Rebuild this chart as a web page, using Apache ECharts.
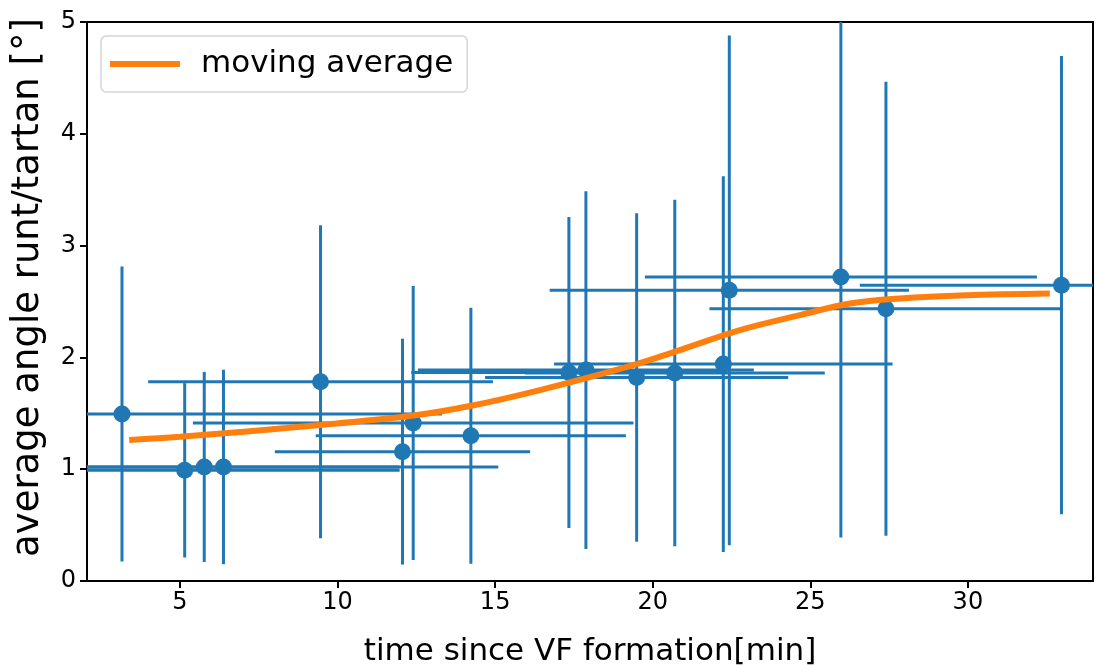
<!DOCTYPE html>
<html>
<head>
<meta charset="utf-8">
<script src="https://cdn.jsdelivr.net/npm/echarts@6/dist/echarts.min.js"></script>
<style>html,body{margin:0;padding:0;background:#fff}#c{width:1099px;height:665px}</style>
</head>
<body>
<div id="c"></div>
<script>
// measured points
var xs    = [3.16, 5.15, 5.77, 6.38, 9.46, 12.06, 12.40, 14.23, 17.34, 17.88, 19.49, 20.70, 22.24, 22.43, 25.97, 27.40, 32.97];
var ys    = [1.494, 0.99, 1.02, 1.02, 1.782, 1.157, 1.413, 1.30, 1.865, 1.887, 1.82, 1.86, 1.94, 2.60, 2.72, 2.435, 2.646];
var xerr  = [10.15, 6.82, 6.19, 8.72, 5.47, 4.05, 6.99, 4.92, 5.0, 5.33, 4.81, 4.76, 5.37, 5.70, 6.22, 5.60, 6.40];
var yerr  = [1.32, 0.78, 0.85, 0.87, 1.40, 1.01, 1.225, 1.145, 1.39, 1.60, 1.47, 1.55, 1.68, 2.28, 2.33, 2.03, 2.05];
// moving average curve
var maX   = [3.39, 5.0, 9.44, 12.4, 14.2, 16.42, 19.38, 20.86, 22.77, 24.67, 26.26, 27.84, 29.96, 32.6];
var maY   = [1.262, 1.29, 1.395, 1.48, 1.565, 1.708, 1.931, 2.065, 2.244, 2.378, 2.482, 2.527, 2.556, 2.571];
// ticks
var xTicks = [5, 10, 15, 20, 25, 30];
var yTicks = [0, 1, 2, 3, 4, 5];

var FONT = 'DejaVu Sans';
var BLUE = '#1f77b4', ORANGE = '#ff7f0e';

var errData = xs.map(function (x, i) { return [x, ys[i], xerr[i], yerr[i]]; });
var ptData = xs.map(function (x, i) { return [x, ys[i]]; });
var maData = maX.map(function (x, i) { return [x, maY[i]]; });

var chart = echarts.init(document.getElementById('c'));
chart.setOption({
  animation: false,
  backgroundColor: '#fff',
  grid: { left: 87, top: 22, width: 1006, height: 559, containLabel: false, outerBoundsMode: 'none',
          show: true, borderColor: '#000', borderWidth: 2, backgroundColor: 'transparent' },
  legend: {
    data: ['moving average'],
    left: 101, top: 36,
    icon: 'rect', itemWidth: 70, itemHeight: 6,
    padding: [10, 14, 10, 9],
    backgroundColor: 'rgba(255,255,255,0.8)',
    borderColor: '#d5d5d5', borderWidth: 1.5, borderRadius: 5,
    textStyle: { fontFamily: FONT, fontSize: 31, color: '#000', lineHeight: 36, padding: [0, 0, 0, 16] }
  },
  xAxis: {
    type: 'value', min: 2.05, max: 33.97,
    name: 'time since VF formation[min]', nameLocation: 'middle', nameGap: 55,
    nameTextStyle: { fontFamily: FONT, fontSize: 31, color: '#000' },
    axisLine: { show: true, lineStyle: { color: '#000', width: 2 } },
    axisTick: { show: true, inside: false, length: 7, lineStyle: { color: '#000', width: 2 }, customValues: xTicks },
    axisLabel: { fontFamily: FONT, fontSize: 24, color: '#000', margin: 10, customValues: xTicks },
    splitLine: { show: false }
  },
  yAxis: {
    type: 'value', min: 0, max: 5,
    name: 'average angle runt/tartan [°]', nameLocation: 'middle', nameGap: 40, nameRotate: 90,
    nameTextStyle: { fontFamily: FONT, fontSize: 37, color: '#000', padding: [0, 0, 0, 28] },
    axisLine: { show: true, lineStyle: { color: '#000', width: 2 } },
    axisTick: { show: true, inside: false, length: 7, lineStyle: { color: '#000', width: 2 }, customValues: yTicks },
    axisLabel: { fontFamily: FONT, fontSize: 24, color: '#000', margin: 11, customValues: yTicks },
    splitLine: { show: false }
  },
  series: [
    {
      type: 'custom', name: 'err', clip: true, z: 2,
      data: errData,
      encode: { x: 0, y: 1 },
      renderItem: function (params, api) {
        var x = api.value(0), y = api.value(1), ex = api.value(2), ey = api.value(3);
        var l = api.coord([x - ex, y]), r = api.coord([x + ex, y]);
        var t = api.coord([x, y + ey]), b = api.coord([x, y - ey]);
        var st = { stroke: BLUE, lineWidth: 3 };
        return {
          type: 'group',
          children: [
            { type: 'line', shape: { x1: l[0], y1: l[1], x2: r[0], y2: r[1] }, style: st },
            { type: 'line', shape: { x1: t[0], y1: t[1], x2: b[0], y2: b[1] }, style: st }
          ]
        };
      }
    },
    {
      type: 'scatter', name: 'points', z: 3,
      data: ptData, symbol: 'circle', symbolSize: 17,
      itemStyle: { color: BLUE, opacity: 1 }
    },
    {
      type: 'line', name: 'moving average', z: 4,
      data: maData, smooth: 0.35, showSymbol: false, symbol: 'none',
      lineStyle: { color: ORANGE, width: 6 },
      itemStyle: { color: ORANGE }
    }
  ]
});
</script>
</body>
</html>
